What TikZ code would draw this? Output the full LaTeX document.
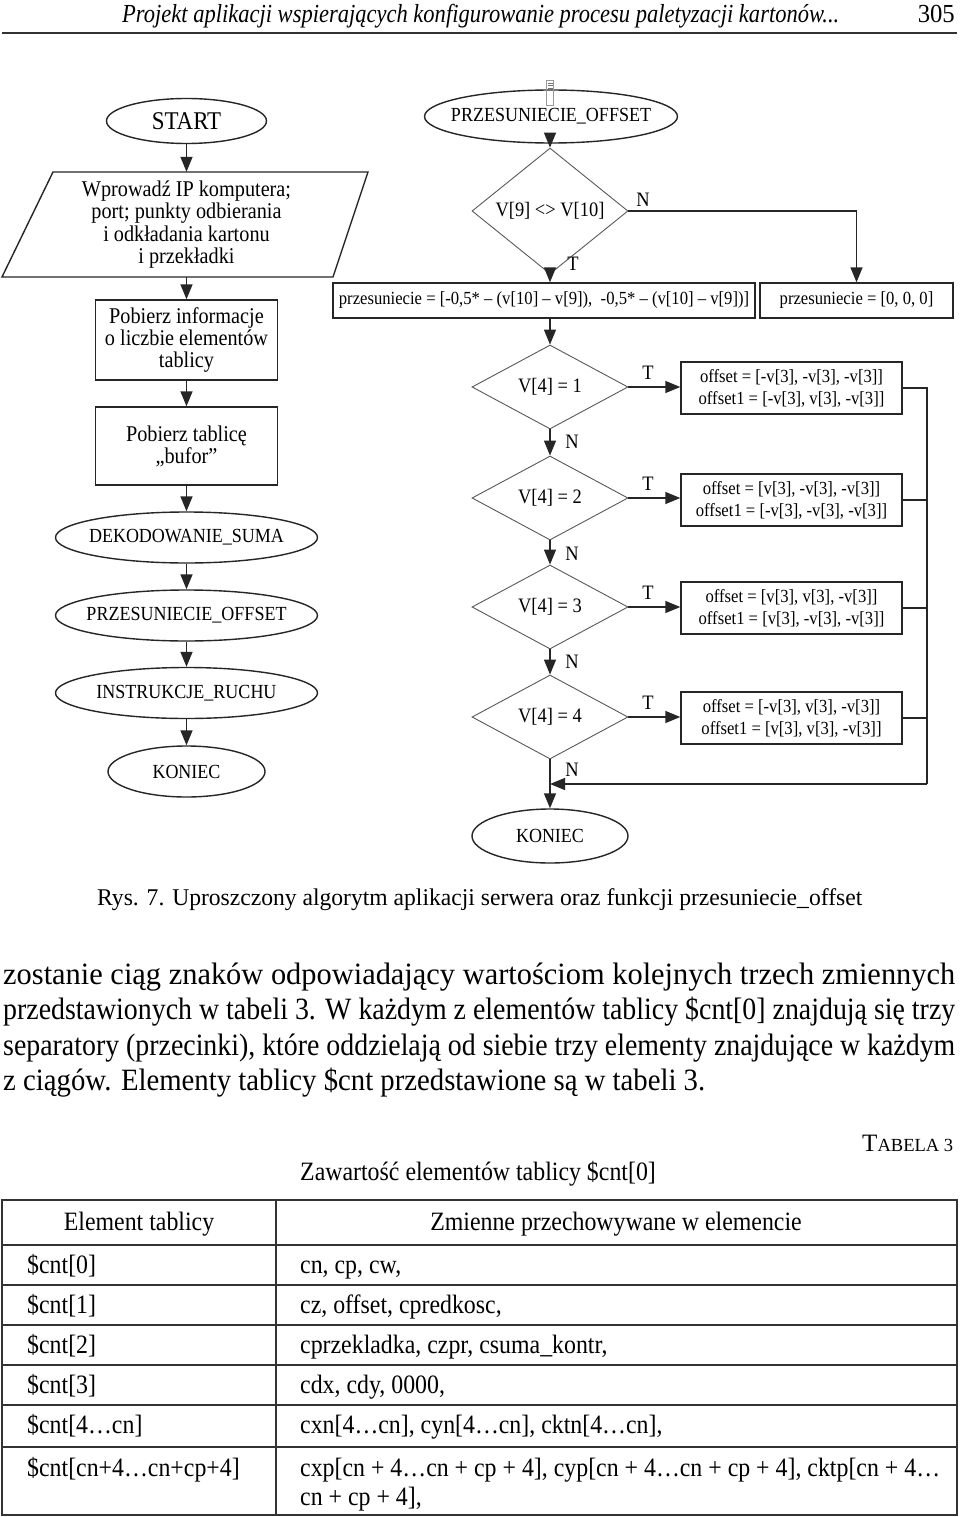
\documentclass[tikz,border=0pt]{standalone}
\usepackage{graphicx}
\usepackage{fontspec}
\setmainfont{Liberation Serif}[FakeStretch=0.9]
\usetikzlibrary{shapes.geometric,arrows.meta}
\newcommand{\fitw}[2]{\resizebox{#1}{\height}{#2}}
\newcommand{\zb}[1]{\makebox[0pt]{#1}}
\begin{document}
\begin{tikzpicture}[x=1pt,y=-1pt,
  lin/.style={draw=black!85, line width=1.4pt},
  oval/.style={ellipse, lin, inner sep=0pt, font=\fontsize{20}{22}\selectfont},
  rbox/.style={rectangle, lin, inner sep=0pt, align=center},
  lbox/.style={rbox, minimum width=182pt, font=\fontsize{22.5}{22}\selectfont},
  dia/.style={diamond, draw=black!65, line width=0.9pt, inner sep=0pt, minimum width=156pt, minimum height=84pt, font=\fontsize{20.5}{22}\selectfont},
  arr/.style={lin, -{Triangle[length=15pt,width=12pt]}},
  lbl/.style={font=\fontsize{20.5}{22}\selectfont, inner sep=0pt},
  pbox/.style={rbox, minimum height=35pt, font=\fontsize{18.5}{20}\selectfont},
  offb/.style={rbox, minimum width=221pt, minimum height=52pt, font=\fontsize{18.5}{22}\selectfont},
  txt/.style={anchor=base west, inner sep=0pt},
  cell/.style={anchor=base west, inner sep=0pt, font=\fontsize{26.5}{29}\selectfont},
  tline/.style={draw=black!80, line width=1.5pt}
]
\useasboundingbox (0,0) rectangle (960,1517);
\fill[white] (0,0) rectangle (960,1517);

% header
\node[txt] (hdr) at (122,23) {\fitw{717pt}{\fontsize{26}{26}\selectfont\itshape Projekt aplikacji wspierających konfigurowanie procesu paletyzacji kartonów...}};
\node[anchor=base east, inner sep=0pt] (pnum) at (955,23) {\fitw{37pt}{\fontsize{26}{26}\selectfont 305}};
\draw[black!80, line width=2pt] (2,33) -- (957,33);

% left column
\node[oval, minimum width=160pt, minimum height=45pt, font=\fontsize{25.5}{26}\selectfont] (start) at (186.5,121) {\zb{START}};
\node[inner sep=0pt, minimum width=250pt, minimum height=105pt, align=center, font=\fontsize{22.5}{22.3}\selectfont] (inp) at (186.5,224.5) {Wprowadź IP komputera;\\ port; punkty odbierania\\ i odkładania kartonu\\ i przekładki};
\draw[lin] (53,172) -- (368,172) -- (333,277) -- (2,277) -- cycle;
\node[lbox, minimum height=80pt] (info) at (186.5,340) {Pobierz informacje\\ o liczbie elementów\\ tablicy};
\node[lbox, minimum height=78pt] (buf) at (186.5,446) {Pobierz tablicę\\ „bufor”};
\node[oval, minimum width=262pt, minimum height=51pt] (dek) at (186.5,537.5) {\zb{DEKODOWANIE\_SUMA}};
\node[oval, minimum width=262pt, minimum height=51pt] (prz) at (186.5,615.5) {\zb{PRZESUNIECIE\_OFFSET}};
\node[oval, minimum width=262pt, minimum height=51pt] (ins) at (186.5,693) {\zb{INSTRUKCJE\_RUCHU}};
\node[oval, minimum width=157pt, minimum height=51pt] (kon) at (186.5,771.5) {\zb{KONIEC}};
\draw[arr] (start) -- (inp.north);
\draw[arr] (inp.south) -- (info);
\draw[arr] (info) -- (buf);
\draw[arr] (buf) -- (dek);
\draw[arr] (dek) -- (prz);
\draw[arr] (prz) -- (ins);
\draw[arr] (ins) -- (kon);

% right column
\node[oval, minimum width=253pt, minimum height=53pt] (po) at (551,116.5) {\zb{PRZESUNIECIE\_OFFSET}};
\draw[black!40, line width=0.6pt] (546.5,80) rectangle (553.5,105);
\draw[black!55, line width=0.6pt] (547.5,83) -- (552.5,83) (547.5,85.5) -- (552.5,85.5) (547.5,88) -- (552.5,88);
\node[dia] (d0) at (550,211) {V[9] <> V[10]};
\node[pbox, minimum width=422pt] (pr1) at (544,300.5) {przesuniecie = [-0,5* – (v[10] – v[9]),\ \ -0,5* – (v[10] – v[9])]};
\node[pbox, minimum width=193pt] (pr0) at (856.5,300.5) {przesuniecie = [0, 0, 0]};
\draw[arr] (po.south -| d0.north) -- (d0.north);
\draw[arr] (d0.south) -- (d0.south |- pr1.north);
\draw[arr] (d0.east) -| (pr0.north);
\node[lbl] (ln0) at (643,200) {N};
\node[lbl] (lt0) at (573,264) {T};

\node[dia] (d1) at (550,387) {V[4] = 1};
\node[dia] (d2) at (550,498) {V[4] = 2};
\node[dia] (d3) at (550,607) {V[4] = 3};
\node[dia] (d4) at (550,717) {V[4] = 4};
\node[offb] (o1) at (791.5,388) {offset = [-v[3], -v[3], -v[3]]\\ offset1 = [-v[3], v[3], -v[3]]};
\node[offb] (o2) at (791.5,500) {offset = [v[3], -v[3], -v[3]]\\ offset1 = [-v[3], -v[3], -v[3]]};
\node[offb] (o3) at (791.5,608) {offset = [v[3], v[3], -v[3]]\\ offset1 = [v[3], -v[3], -v[3]]};
\node[offb] (o4) at (791.5,718) {offset = [-v[3], v[3], -v[3]]\\ offset1 = [v[3], v[3], -v[3]]};
\node[oval, minimum width=156pt, minimum height=54pt] (kon2) at (550,836) {\zb{KONIEC}};

\draw[arr] (d0.south |- pr1.south) -- (d1.north);
\draw[arr] (d1.south) -- (d2.north);
\draw[arr] (d2.south) -- (d3.north);
\draw[arr] (d3.south) -- (d4.north);
\draw[arr] (d4.south) -- (kon2.north);
\foreach \i in {1,2,3,4}{
  \draw[arr] (d\i.east) -- (d\i.east -| o\i.west);
}
\node[lbl] (lt1) at (648,373) {T};
\node[lbl] (lt2) at (648,484) {T};
\node[lbl] (lt3) at (648,593) {T};
\node[lbl] (lt4) at (648,703) {T};
\node[lbl] (ln1) at (572,442) {N};
\node[lbl] (ln2) at (572,554) {N};
\node[lbl] (ln3) at (572,662) {N};
\node[lbl] (ln4) at (572,770) {N};
\coordinate (bus) at (927,784);
\draw[lin] (o1.east) -- (o1.east -| bus) -- (bus);
\draw[lin] (o2.east) -- (o2.east -| bus);
\draw[lin] (o3.east) -- (o3.east -| bus);
\draw[lin] (o4.east) -- (o4.east -| bus);
\draw[arr] (bus) -- (bus -| d4.south);

% caption
\node[txt] (cap) at (97,905) {\fitw{765pt}{\fontsize{24}{24}\selectfont Rys. 7. Uproszczony algorytm aplikacji serwera oraz funkcji przesuniecie\_offset}};

% paragraph
\node[txt] (p1) at (3,984) {\fitw{952pt}{\fontsize{31}{31}\selectfont zostanie ciąg znaków odpowiadający wartościom kolejnych trzech zmiennych}};
\node[txt] (p2) at (3,1019.5) {\fitw{952pt}{\fontsize{31}{31}\selectfont przedstawionych w tabeli 3. W każdym z elementów tablicy \$cnt[0] znajdują się trzy}};
\node[txt] (p3) at (3,1055) {\fitw{952pt}{\fontsize{31}{31}\selectfont separatory (przecinki), które oddzielają od siebie trzy elementy znajdujące w każdym}};
\node[txt] (p4) at (3,1090.5) {\fitw{702pt}{\fontsize{31}{31}\selectfont z ciągów. Elementy tablicy \$cnt przedstawione są w tabeli 3.}};

% table
\node[txt] (tab) at (862,1151) {\fitw{91pt}{\fontsize{25}{25}\selectfont T\fontsize{18.5}{18.5}\selectfont ABELA 3}};
\node[cell] (tcap) at (300,1180) {Zawartość elementów tablicy \$cnt[0]};
\draw[tline] (2,1200) rectangle (957,1515);
\foreach \yy in {1245,1285,1325,1365,1405,1447}{
  \draw[tline] (2,\yy) -- (957,\yy);
}
\draw[tline] (276,1200) -- (276,1515);
\node[cell, anchor=base] (h1) at (139,1230) {Element tablicy};
\node[cell, anchor=base] (h2) at (616,1230) {Zmienne przechowywane w elemencie};
\node[cell] (a0) at (27,1273) {\$cnt[0]};
\node[cell] (a1) at (27,1313) {\$cnt[1]};
\node[cell] (a2) at (27,1353) {\$cnt[2]};
\node[cell] (a3) at (27,1393) {\$cnt[3]};
\node[cell] (a4) at (27,1433) {\$cnt[4…cn]};
\node[cell] (a5) at (27,1476) {\$cnt[cn+4…cn+cp+4]};
\node[cell] (b0) at (300,1273) {cn, cp, cw,};
\node[cell] (b1) at (300,1313) {cz, offset, cpredkosc,};
\node[cell] (b2) at (300,1353) {cprzekladka, czpr, csuma\_kontr,};
\node[cell] (b3) at (300,1393) {cdx, cdy, 0000,};
\node[cell] (b4) at (300,1433) {cxn[4…cn], cyn[4…cn], cktn[4…cn],};
\node[cell] (b5) at (300,1476) {cxp[cn + 4…cn + cp + 4], cyp[cn + 4…cn + cp + 4], cktp[cn + 4…};
\node[cell] (b6) at (300,1505) {cn + cp + 4],};
\end{tikzpicture}
\end{document}
